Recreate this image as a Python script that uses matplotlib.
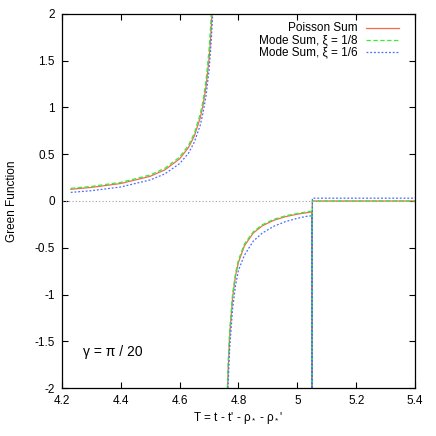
import matplotlib
matplotlib.use("Agg")
import matplotlib.pyplot as plt
import numpy as np

plt.rcParams['font.family'] = ['Liberation Sans', 'DejaVu Sans']
plt.rcParams['mathtext.fontset'] = 'custom'
plt.rcParams['mathtext.rm'] = 'Liberation Sans'
plt.rcParams['mathtext.it'] = 'Liberation Sans'

# left branch
T_left = [4.23, 4.30, 4.40, 4.50, 4.55, 4.60, 4.63, 4.65, 4.67, 4.68, 4.69, 4.70, 4.705, 4.71, 4.715, 4.72]
poisson_left = [0.125, 0.145, 0.187, 0.264, 0.333, 0.451, 0.571, 0.696, 0.889, 1.03, 1.23, 1.52, 1.73, 2.0, 2.37, 2.9]
mode8_left = [0.135, 0.156, 0.199, 0.278, 0.35, 0.47, 0.595, 0.725, 0.93, 1.08, 1.30, 1.62, 1.86, 2.15, 2.6, 3.3]
mode6_left = [0.092, 0.11, 0.15, 0.225, 0.29, 0.40, 0.51, 0.63, 0.81, 0.95, 1.13, 1.40, 1.60, 1.85, 2.2, 2.6]

# right branch up to the jump
T_right = [4.762, 4.765, 4.77, 4.78, 4.79, 4.80, 4.82, 4.85, 4.88, 4.92, 4.96, 5.00, 5.03, 5.049]
poisson_right = [-2.1, -1.8, -1.44, -1.03, -0.80, -0.655, -0.48, -0.343, -0.267, -0.206, -0.167, -0.141, -0.126, -0.117]
mode8_right = [-2.0, -1.72, -1.38, -0.99, -0.77, -0.63, -0.46, -0.33, -0.255, -0.196, -0.158, -0.133, -0.118, -0.108]
mode6_right = [-2.2, -1.95, -1.58, -1.15, -0.90, -0.74, -0.58, -0.43, -0.345, -0.27, -0.22, -0.185, -0.165, -0.158]

# spike at the jump and flat tail
T_tail = [5.05, 5.051, 5.4]
poisson_tail = [-30.0, 0.0, 0.0]
mode8_tail = [-30.0, 0.0, 0.0]
mode6_tail = [-30.0, 0.03, 0.03]


def join(a, b, c):
    return np.concatenate([a, [np.nan], b, c])


T = join(T_left, T_right, T_tail)
series = [
    ("Poisson Sum", join(poisson_left, poisson_right, poisson_tail), '#f26b4f', '-'),
    ("Mode Sum, ξ = 1/8", join(mode8_left, mode8_right, mode8_tail), '#33ee33', (0, (3.5, 2))),
    ("Mode Sum, ξ = 1/6", join(mode6_left, mode6_right, mode6_tail), '#4a6cff', (0, (1.5, 1.5))),
]

fig = plt.figure(figsize=(4.36, 4.36), dpi=100)
ax = fig.add_axes([0.142, 0.110, 0.810, 0.858])

ax.axhline(0, color='#a0a0a0', lw=0.8, ls=(0, (1, 2)))
for label, y, col, ls in series:
    ax.plot(T, y, color=col, ls=ls, lw=0.9)

ax.set_xlim(4.2, 5.4)
ax.set_ylim(-2, 2)
ax.set_xticks(np.arange(4.2, 5.41, 0.2))
ax.set_xticklabels(['4.2', '4.4', '4.6', '4.8', '5', '5.2', '5.4'])
ax.set_yticks(np.arange(-2, 2.01, 0.5))
ax.set_yticklabels(['-2', '-1.5', '-1', '-0.5', '0', '0.5', '1', '1.5', '2'])
ax.tick_params(direction='in', top=True, right=True, length=4, width=0.8, labelsize=8.5, pad=5)
for s in ax.spines.values():
    s.set_linewidth(0.9)

ax.set_xlabel(r"T = t - t' - $\rho_*$ - $\rho_*$'", fontsize=8.5, labelpad=2)
ax.set_ylabel("Green Function", fontsize=8.5, labelpad=12)
ax.text(0.06, 0.096, "γ = π / 20", transform=ax.transAxes, fontsize=10, va='center')

# legend drawn by hand, gnuplot style
for i, (label, y, col, ls) in enumerate(series):
    yy = 0.962 - i * 0.032
    ax.text(0.837, yy, label, transform=ax.transAxes, ha='right', va='center', fontsize=8.5)
    ax.plot([0.860, 0.955], [yy, yy], transform=ax.transAxes, color=col, ls=ls, lw=0.9)

fig.savefig("out.png", dpi=100)
